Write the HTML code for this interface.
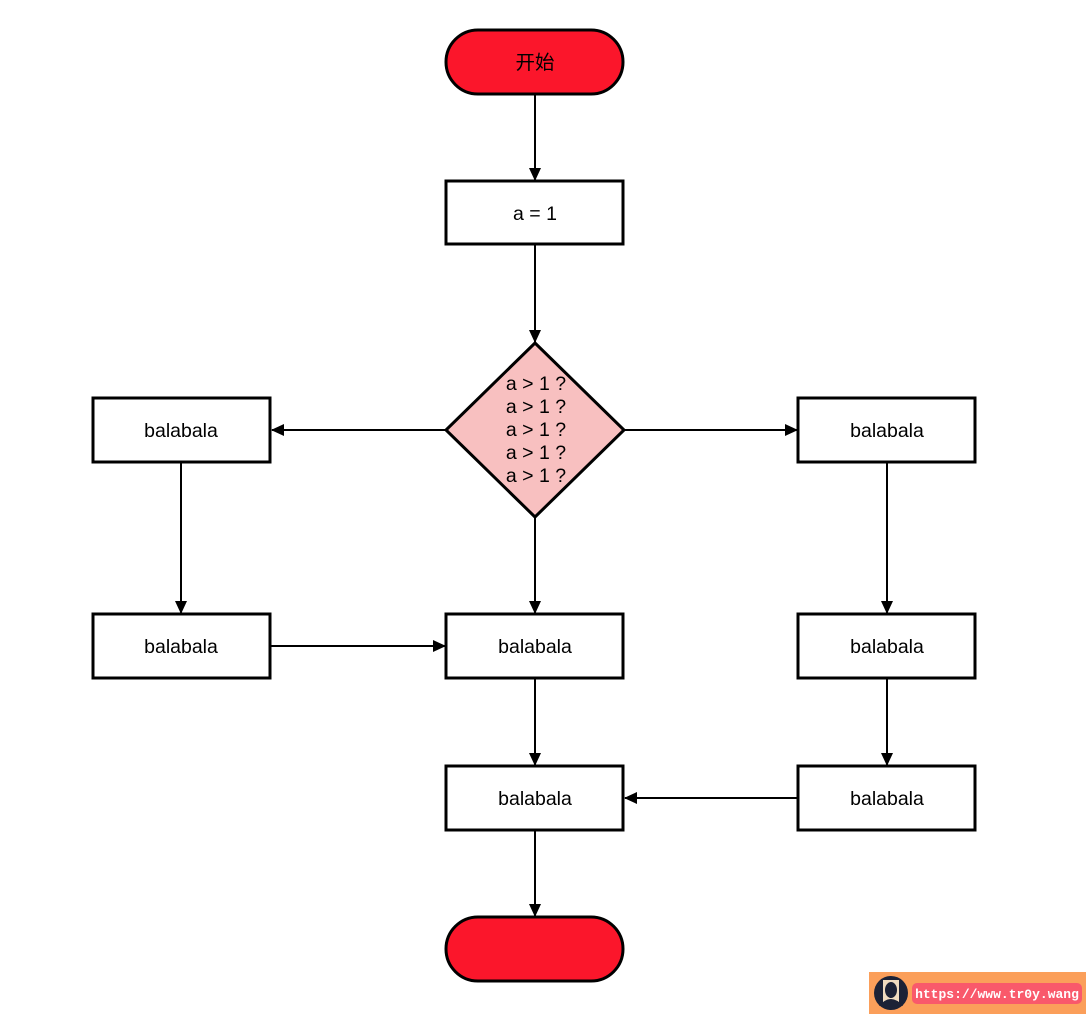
<!DOCTYPE html>
<html><head><meta charset="utf-8"><style>
body{margin:0;background:#fff;width:1086px;height:1014px;overflow:hidden}
text{font-family:"Liberation Sans","Noto Sans CJK SC",sans-serif;font-size:19.5px;fill:#000}
</style></head><body>
<svg width="1086" height="1014" xmlns="http://www.w3.org/2000/svg">
<defs><marker id="a" markerWidth="14" markerHeight="12" refX="12" refY="6" orient="auto" markerUnits="userSpaceOnUse"><path d="M0,0 L13,6 L0,12 Z" fill="#000"/></marker></defs>
<g stroke="#000" stroke-width="2" fill="none" marker-end="url(#a)">
<line x1="535" y1="95" x2="535" y2="180"/>
<line x1="535" y1="245" x2="535" y2="342"/>
<line x1="446" y1="430" x2="272" y2="430"/>
<line x1="624" y1="430" x2="797" y2="430"/>
<line x1="535" y1="517" x2="535" y2="613"/>
<line x1="181" y1="463" x2="181" y2="613"/>
<line x1="887" y1="463" x2="887" y2="613"/>
<line x1="271" y1="646" x2="445" y2="646"/>
<line x1="535" y1="679" x2="535" y2="765"/>
<line x1="887" y1="679" x2="887" y2="765"/>
<line x1="798" y1="798" x2="625" y2="798"/>
<line x1="535" y1="831" x2="535" y2="916"/>
</g>
<g stroke="#000" stroke-width="3">
<rect x="446" y="30" width="177" height="64" rx="32" fill="#fb162b"/>
<rect x="446" y="181" width="177" height="63" fill="#fff"/>
<polygon points="535,343 624,430 535,517 446,430" fill="#f8c0c0"/>
<rect x="93" y="398" width="177" height="64" fill="#fff"/>
<rect x="798" y="398" width="177" height="64" fill="#fff"/>
<rect x="93" y="614" width="177" height="64" fill="#fff"/>
<rect x="446" y="614" width="177" height="64" fill="#fff"/>
<rect x="798" y="614" width="177" height="64" fill="#fff"/>
<rect x="446" y="766" width="177" height="64" fill="#fff"/>
<rect x="798" y="766" width="177" height="64" fill="#fff"/>
<rect x="446" y="917" width="177" height="64" rx="32" fill="#fb162b"/>
</g>
<g text-anchor="middle">
<text x="535" y="69">开始</text>
<text x="535" y="220">a = 1</text>
<text x="536" y="390">a &gt; 1 ?</text>
<text x="536" y="413">a &gt; 1 ?</text>
<text x="536" y="436">a &gt; 1 ?</text>
<text x="536" y="459">a &gt; 1 ?</text>
<text x="536" y="482">a &gt; 1 ?</text>
<text x="181" y="437">balabala</text>
<text x="887" y="437">balabala</text>
<text x="181" y="653">balabala</text>
<text x="535" y="653">balabala</text>
<text x="887" y="653">balabala</text>
<text x="535" y="805">balabala</text>
<text x="887" y="805">balabala</text>
</g>
<rect x="869" y="972" width="217" height="42" fill="#fb9f5a"/>
<circle cx="891" cy="993" r="17" fill="#1c2236"/>
<rect x="883" y="980" width="16" height="24" fill="#f0dcc0"/>
<ellipse cx="891" cy="990" rx="6" ry="8" fill="#1c2236"/>
<path d="M879,1006 Q891,992 903,1006 Z" fill="#1c2236"/>
<rect x="912" y="983" width="170" height="21" rx="5" fill="#f9596b"/>
<text x="997" y="998" text-anchor="middle" style="font-family:'Liberation Mono',monospace;font-size:13px;font-weight:bold;fill:#fff">https://www.tr0y.wang</text>
</svg>
</body></html>
